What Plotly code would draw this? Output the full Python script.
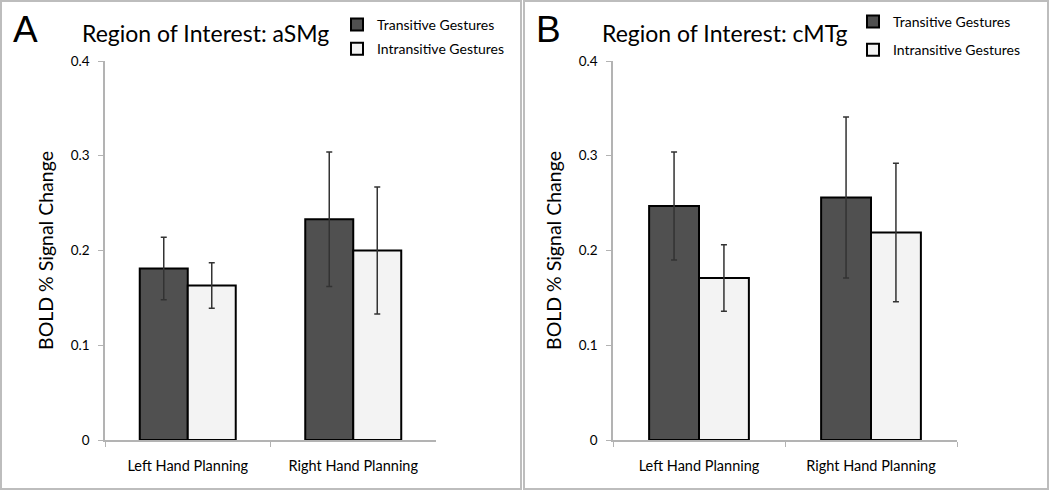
import plotly.graph_objects as go

# data
conditions = ['Left Hand Planning', 'Right Hand Planning']

asmg_transitive = [0.181, 0.233]
asmg_transitive_err = [0.033, 0.071]
asmg_intransitive = [0.163, 0.200]
asmg_intransitive_err = [0.024, 0.067]

cmtg_transitive = [0.247, 0.256]
cmtg_transitive_err = [0.057, 0.085]
cmtg_intransitive = [0.171, 0.219]
cmtg_intransitive_err = [0.035, 0.073]

y_ticks = [0, 0.1, 0.2, 0.3, 0.4]
y_ticklabels = ['0', '0.1', '0.2', '0.3', '0.4']

FONT = 'Lato, "Open Sans", sans-serif'
DARK = '#505050'
LIGHT = '#f3f3f3'
AXIS = '#b3b3b3'

W, H = 1050, 491


def px_x(v):
    return v / W


def px_y(v):
    # pixel from top -> paper coordinate from bottom
    return 1 - v / H


def bar(name, y, err, color, xa, ya, legend, group):
    return go.Bar(
        x=conditions, y=y, name=name,
        marker=dict(color=color, line=dict(color='black', width=2)),
        error_y=dict(type='data', array=err, color='#333333', thickness=1.5, width=3),
        xaxis=xa, yaxis=ya, legend=legend, legendgroup=group,
    )


fig = go.Figure()
fig.add_trace(bar('Transitive Gestures', asmg_transitive, asmg_transitive_err, DARK, 'x', 'y', 'legend', 'a1'))
fig.add_trace(bar('Intransitive Gestures', asmg_intransitive, asmg_intransitive_err, LIGHT, 'x', 'y', 'legend', 'a2'))
fig.add_trace(bar('Transitive Gestures', cmtg_transitive, cmtg_transitive_err, DARK, 'x2', 'y2', 'legend2', 'b1'))
fig.add_trace(bar('Intransitive Gestures', cmtg_intransitive, cmtg_intransitive_err, LIGHT, 'x2', 'y2', 'legend2', 'b2'))

xaxis_common = dict(
    type='category', showline=True, linecolor=AXIS, linewidth=1.5,
    ticks='outside', tickson='boundaries', ticklen=5, tickcolor=AXIS,
    showgrid=False, zeroline=False, automargin=False, ticklabelstandoff=12,
    tickfont=dict(family=FONT, size=14.5, color='black'),
)
yaxis_common = dict(
    range=[0, 0.4], tickvals=y_ticks, ticktext=y_ticklabels,
    showline=True, linecolor=AXIS, linewidth=1.5,
    ticks='outside', ticklen=5, tickcolor=AXIS,
    showgrid=False, zeroline=False, automargin=False, ticklabelstandoff=6,
    tickfont=dict(family=FONT, size=13.5, color='black'),
    title=dict(text='BOLD % Signal Change', font=dict(family=FONT, size=19.5, color='black'), standoff=12),
)

y_dom = [px_y(440), px_y(61)]


def label(text, x, y, size, family=FONT):
    return dict(text=text, x=px_x(x), y=px_y(y), xref='paper', yref='paper',
                xanchor='center', yanchor='middle', showarrow=False,
                font=dict(family=family, size=size, color='black'))


fig.update_layout(
    width=W, height=H,
    margin=dict(l=0, r=0, t=0, b=0, autoexpand=False),
    paper_bgcolor='white', plot_bgcolor='white',
    barmode='group', bargap=0.42, bargroupgap=0,
    font=dict(family=FONT, color='black'),
    xaxis=dict(domain=[px_x(105), px_x(436)], anchor='y', **xaxis_common),
    yaxis=dict(domain=y_dom, anchor='x', **yaxis_common),
    xaxis2=dict(domain=[px_x(613), px_x(957)], anchor='y2', **xaxis_common),
    yaxis2=dict(domain=y_dom, anchor='x2', **yaxis_common),
    legend=dict(x=px_x(337), y=px_y(9), xanchor='left', yanchor='top',
                font=dict(family=FONT, size=14), traceorder='grouped',
                tracegroupgap=3, itemwidth=30, bgcolor='rgba(0,0,0,0)'),
    legend2=dict(x=px_x(853), y=px_y(6), xanchor='left', yanchor='top',
                 font=dict(family=FONT, size=14), traceorder='grouped',
                 tracegroupgap=7, itemwidth=30, bgcolor='rgba(0,0,0,0)'),
    shapes=[
        dict(type='rect', xref='paper', yref='paper', x0=px_x(1), x1=px_x(521),
             y0=px_y(489), y1=px_y(1), line=dict(color='#bdbdbd', width=2)),
        dict(type='rect', xref='paper', yref='paper', x0=px_x(524), x1=px_x(1048),
             y0=px_y(489), y1=px_y(1), line=dict(color='#bdbdbd', width=2)),
    ],
    annotations=[
        label('A', 25, 30, 37, 'Liberation Sans, Arial, sans-serif'),
        label('B', 548, 30, 37, 'Liberation Sans, Arial, sans-serif'),
        label('Region of Interest: aSMg', 205, 33, 23),
        label('Region of Interest: cMTg', 724, 33, 23),
    ],
)

fig.write_html('out.html', config={'displayModeBar': False},
               post_script="document.body.style.margin='0';")
